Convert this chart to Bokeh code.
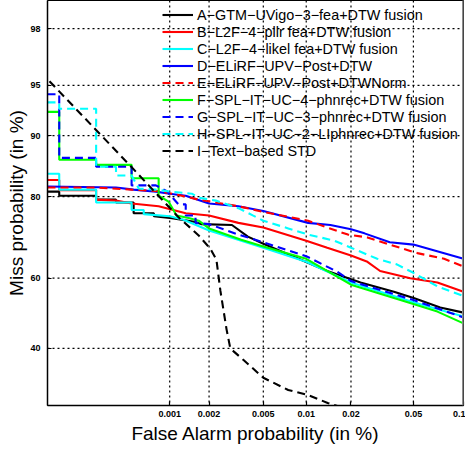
import numpy as np
from bokeh.plotting import figure
from bokeh.models import Range1d, FixedTicker, Legend, LegendItem, Span
from bokeh.embed import file_html
from bokeh.resources import INLINE

# ---------------- data (values in %) ----------------
x_ticks = [0.001, 0.002, 0.005, 0.01, 0.02, 0.05, 0.1]
x_tick_labels = ["0.001", "0.002", "0.005", "0.01", "0.02", "0.05", "0.1"]
y_ticks = [40, 60, 80, 90, 95, 98]
y_tick_labels = ["40", "60", "80", "90", "95", "98"]
x_limits = [0.0001, 0.1]
y_limits = [25.3, 98.8]

names = [
    "A−GTM−UVigo−3−fea+DTW fusion",
    "B−L2F−4−pllr fea+DTW fusion",
    "C−L2F−4−likel fea+DTW fusion",
    "D−ELiRF−UPV−Post+DTW",
    "E−ELiRF−UPV−Post+DTWNorm",
    "F−SPL−IT−UC−4−phnrec+DTW fusion",
    "G−SPL−IT−UC−3−phnrec+DTW fusion",
    "H−SPL−IT−UC−2−LIphnrec+DTW fusion",
    "I−Text−based STD",
]

a_fa = [0.0001, 0.000126, 0.000126, 0.000257, 0.000257, 0.000374, 0.000374, 0.000519, 0.000519, 0.000752, 0.000752,
        0.00104, 0.00158, 0.00176, 0.00296, 0.00387, 0.005, 0.00837, 0.0139, 0.0231, 0.0378, 0.0507, 0.0728, 0.1]
a_miss = [81.0, 81.0, 80.2, 80.2, 79.4, 79.4, 78.8, 78.8, 76.5, 76.5, 75.8, 75.4, 74.5, 74.0, 73.8, 71.0, 69.2,
          65.7, 62.0, 58.8, 56.2, 54.3, 51.7, 50.2]

b_fa = [0.0001, 0.000126, 0.000126, 0.000257, 0.000257, 0.000374, 0.0005, 0.00082, 0.00133, 0.002, 0.0033, 0.005,
        0.01, 0.0139, 0.02, 0.0256, 0.0309, 0.0478, 0.07, 0.1]
b_miss = [83.2, 83.2, 81.3, 81.3, 79.4, 79.2, 78.6, 78.0, 76.5, 76.0, 74.3, 73.2, 70.0, 68.2, 66.2, 64.5, 62.0, 60.0,
          58.8, 56.2]

c_fa = [0.0001, 0.000126, 0.000126, 0.000257, 0.000257, 0.0005, 0.0005, 0.000625, 0.000625, 0.001, 0.00128, 0.002,
        0.005, 0.01, 0.02, 0.05, 0.1]
c_miss = [84.3, 84.3, 81.4, 81.4, 78.8, 78.8, 77.2, 77.2, 76.3, 75.8, 75.0, 72.5, 68.2, 64.5, 58.8, 53.2, 49.1]

d_fa = [0.0001, 0.000374, 0.000519, 0.00078, 0.001, 0.00133, 0.002, 0.0033, 0.005, 0.0103, 0.0146, 0.02, 0.0245,
        0.0356, 0.05, 0.1]
d_miss = [82.0, 81.8, 81.4, 81.0, 80.6, 80.2, 78.6, 78.0, 77.0, 74.3, 73.8, 72.8, 71.8, 69.6, 69.0, 65.3]

e_fa = [0.0001, 0.000257, 0.0005, 0.00082, 0.00124, 0.00167, 0.0033, 0.005, 0.0103, 0.0139, 0.0191, 0.0256, 0.0356,
        0.0529, 0.0768, 0.1]
e_miss = [81.8, 81.8, 81.4, 81.1, 80.2, 79.4, 78.0, 76.8, 74.8, 73.2, 71.5, 70.8, 69.0, 66.8, 65.3, 63.2]

f_fa = [0.0001, 0.000126, 0.000126, 0.000257, 0.000257, 0.0005, 0.0005, 0.00082, 0.00082, 0.00098, 0.00113, 0.0014,
        0.00167, 0.002, 0.00346, 0.005, 0.01, 0.02, 0.05, 0.07, 0.1]
f_miss = [92.7, 92.7, 86.6, 86.6, 85.8, 85.8, 83.5, 83.5, 80.2, 79.0, 76.0, 75.4, 74.8, 73.0, 70.2, 68.5, 65.3, 58.2,
          52.7, 50.5, 47.1]

g_fa = [0.0001, 0.000126, 0.000126, 0.000257, 0.000257, 0.0005, 0.0005, 0.00078, 0.00095, 0.00117, 0.00133, 0.00133,
        0.00158, 0.00158, 0.002, 0.0033, 0.005, 0.01, 0.0162, 0.02, 0.05, 0.1]
g_miss = [94.3, 94.3, 86.9, 86.9, 85.5, 85.5, 82.2, 82.2, 81.1, 78.4, 78.4, 76.0, 76.0, 74.3, 74.0, 71.5, 69.6, 66.0,
          61.8, 59.2, 53.8, 48.8]

h_fa = [0.0001, 0.000126, 0.000126, 0.000257, 0.000257, 0.000374, 0.000374, 0.0005, 0.00057, 0.00078, 0.00102,
        0.00148, 0.00167, 0.00225, 0.0033, 0.0042, 0.005, 0.0075, 0.0103, 0.0155, 0.02, 0.0296, 0.0394, 0.05, 0.07, 0.1]
h_miss = [93.6, 93.6, 93.0, 93.0, 85.5, 85.5, 84.0, 84.0, 81.6, 81.4, 81.0, 80.6, 79.8, 79.2, 77.6, 76.0, 74.8, 73.0,
          71.5, 70.0, 68.2, 65.3, 63.8, 61.5, 57.7, 55.0]

i_fa = [0.000104, 0.00048, 0.00117, 0.00167, 0.00205, 0.00227, 0.00243, 0.0027, 0.00288, 0.0036, 0.005, 0.0075,
        0.0102, 0.014, 0.0176]
i_miss = [95.3, 85.8, 75.6, 71.3, 67.9, 65.1, 56.5, 45.4, 40.0, 36.8, 32.1, 29.0, 27.8, 25.9, 24.8]

series_fa = [a_fa, b_fa, c_fa, d_fa, e_fa, f_fa, g_fa, h_fa, i_fa]
series_miss = [a_miss, b_miss, c_miss, d_miss, e_miss, f_miss, g_miss, h_miss, i_miss]

colors = ["#000000", "#ff0000", "#00ffff", "#0000ff", "#ff0000", "#00ff00", "#0000ff", "#00ffff", "#000000"]
dashes = ["solid", "solid", "solid", "solid", "8 5", "solid", "8 5", "8 5", "8 5"]


# ---------------- probit (normal deviate) scale ----------------
def probit(p):
    p = np.atleast_1d(np.asarray(p, dtype=float))
    a = [-3.969683028665376e+01, 2.209460984245205e+02, -2.759285104469687e+02,
         1.383577518672690e+02, -3.066479806614716e+01, 2.506628277459239e+00]
    b = [-5.447609879822406e+01, 1.615858368580409e+02, -1.556989798598866e+02,
         6.680131188771972e+01, -1.328068155288572e+01]
    c = [-7.784894002430293e-03, -3.223964580411365e-01, -2.400758277161838e+00,
         -2.549732539343734e+00, 4.374664141464968e+00, 2.938163982698783e+00]
    d = [7.784695709041462e-03, 3.224671290700398e-01, 2.445134137142996e+00,
         3.754408661907416e+00]
    plow = 0.02425
    out = np.empty_like(p)
    lo = p < plow
    hi = p > 1 - plow
    mid = ~(lo | hi)
    q = np.sqrt(-2 * np.log(p[lo]))
    out[lo] = (((((c[0]*q+c[1])*q+c[2])*q+c[3])*q+c[4])*q+c[5]) / ((((d[0]*q+d[1])*q+d[2])*q+d[3])*q+1)
    q = np.sqrt(-2 * np.log(1 - p[hi]))
    out[hi] = -(((((c[0]*q+c[1])*q+c[2])*q+c[3])*q+c[4])*q+c[5]) / ((((d[0]*q+d[1])*q+d[2])*q+d[3])*q+1)
    q = p[mid] - 0.5
    r = q * q
    out[mid] = (((((a[0]*r+a[1])*r+a[2])*r+a[3])*r+a[4])*r+a[5])*q / (((((b[0]*r+b[1])*r+b[2])*r+b[3])*r+b[4])*r+1)
    return out


def pct(v):
    return probit(np.asarray(v, dtype=float) / 100.0)


xt = [round(float(v), 9) for v in pct(x_ticks)]
yt = [round(float(v), 9) for v in pct(y_ticks)]
xr = pct(x_limits)
yr = pct(y_limits)

W, H = 465, 446
BL, BR, BB, BT = 47, 2, 40, 0
FONT = "Liberation Sans"

p = figure(width=W, height=H, output_backend="svg", toolbar_location=None,
           x_range=Range1d(float(xr[0]), float(xr[1])), y_range=Range1d(float(yr[0]), float(yr[1])),
           min_border_left=BL, min_border_right=BR, min_border_bottom=BB, min_border_top=BT,
           background_fill_color="white", border_fill_color="white")
p.outline_line_color = "black"
p.outline_line_width = 1

p.xaxis.ticker = FixedTicker(ticks=xt)
p.yaxis.ticker = FixedTicker(ticks=yt)
p.xaxis.major_label_overrides = {t: l for t, l in zip(xt, x_tick_labels)}
p.yaxis.major_label_overrides = {t: l for t, l in zip(yt, y_tick_labels)}
p.xgrid.grid_line_color = None
p.ygrid.grid_line_color = None

# dotted MATLAB-style grid at the tick positions
for t in xt:
    p.add_layout(Span(location=t, dimension="height", line_color="#000000", line_width=1.2,
                      line_dash="2 3", level="underlay"))
for t in yt:
    p.add_layout(Span(location=t, dimension="width", line_color="#000000", line_width=1.2,
                      line_dash="2 3", level="underlay"))

for ax in (p.xaxis, p.yaxis):
    ax.axis_line_color = "black"
    ax.axis_line_width = 1.5
    ax.major_tick_in = 4
    ax.major_tick_out = 0
    ax.major_tick_line_width = 1.2
    ax.minor_tick_line_color = None
    ax.major_label_text_font = FONT
    ax.major_label_text_font_size = "9px"
    ax.major_label_text_font_style = "bold"
    ax.major_label_text_color = "black"
    ax.axis_label_text_font = FONT
    ax.axis_label_text_font_size = "19px"
    ax.axis_label_text_font_style = "normal"
    ax.axis_label_text_color = "black"

p.xaxis.axis_label = "False Alarm probability (in %)"
p.yaxis.axis_label = "Miss probability (in %)"
p.xaxis.major_label_standoff = 5
p.yaxis.major_label_standoff = 7
p.xaxis.axis_label_standoff = 3
p.yaxis.axis_label_standoff = 0

# thick grey right border of the frame
p.add_layout(Span(location=float(xr[1]), dimension="height", line_color="#8c8c8c", line_width=3))

items = []
for name, fa, miss, col, dash in zip(names, series_fa, series_miss, colors, dashes):
    r = p.line(pct(fa), pct(miss), line_color=col, line_width=2.1, line_dash=dash)
    items.append(LegendItem(label=name, renderers=[r]))

frame_h = H - BB - BT
row_h = 17
legend = Legend(items=items, location=(115, frame_h - 9 * row_h - 7), padding=0, margin=0, spacing=0,
                label_height=row_h, glyph_height=row_h, glyph_width=31, label_standoff=4,
                label_text_font=FONT, label_text_font_size="14.4px", label_text_color="black",
                background_fill_alpha=0, border_line_alpha=0)
p.add_layout(legend)

open("out.html", "w").write(file_html(p, INLINE))
